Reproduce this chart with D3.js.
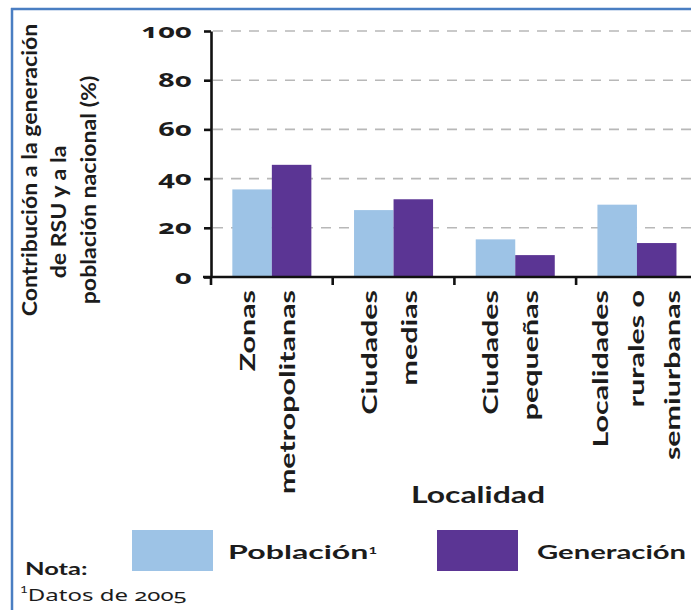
<!DOCTYPE html>
<html>
<head>
<meta charset="utf-8" />
<style>
body { margin: 0; background: #fff; }
svg { display: block; }
text { font-family: Lato, "Open Sans", sans-serif; fill: #1c1c1c; }
.num { font-family: "Noto Sans", Lato, sans-serif; font-feature-settings: "onum" 1; font-variant-numeric: oldstyle-nums; }
</style>
<script src="https://cdnjs.cloudflare.com/ajax/libs/d3/7.8.5/d3.min.js"></script>
</head>
<body>
<div id="chart"></div>
<script>
// data
var categories = ["Zonas metropolitanas", "Ciudades medias", "Ciudades pequeñas", "Localidades rurales o semiurbanas"];
var categoryLines = [["Zonas", "metropolitanas"], ["Ciudades", "medias"], ["Ciudades", "pequeñas"], ["Localidades", "rurales o", "semiurbanas"]];
var series = ["Población", "Generación"];
var poblacion = [35.6, 27.2, 15.3, 29.4];
var generacion = [45.6, 31.6, 8.9, 13.8];
var yTicks = [0, 20, 40, 60, 80, 100];
var yTitleLines = ["Contribución a la generación", "de RSU y a la", "población nacional (%)"];

var colors = { "Población": "#9dc3e6", "Generación": "#5b3594" };
var W = 691, H = 610;

var svg = d3.select("#chart").append("svg")
  .attr("width", W).attr("height", H);

svg.append("rect").attr("width", W).attr("height", H).attr("fill", "#fff");

// frame (only top and left edges are visible)
svg.append("line").attr("x1", 11).attr("x2", W).attr("y1", 9).attr("y2", 9)
  .attr("stroke", "#4a7ec2").attr("stroke-width", 2.5);
svg.append("line").attr("x1", 12).attr("x2", 12).attr("y1", 8).attr("y2", H)
  .attr("stroke", "#4a7ec2").attr("stroke-width", 2.5);

var axisX = 211, step = 121.7;
var x = d3.scaleBand().domain(categories)
  .range([axisX, axisX + step * categories.length])
  .paddingInner(0).paddingOuter(0);
var x1 = d3.scaleBand().domain(series).range([0, x.bandwidth()]).paddingInner(0).paddingOuter(0.54);
var y = d3.scaleLinear().domain([0, 100]).range([277, 31]);

// stretched text helper (the original face is set very wide)
function wideText(g, px, py, rot, sx, str) {
  return g.append("text")
    .attr("transform", "translate(" + px + "," + py + ") rotate(" + rot + ") scale(" + sx + ",1)")
    .text(str);
}

// dashed grid
svg.append("g").selectAll("line")
  .data(yTicks.filter(function(d) { return d > 0; }))
  .enter().append("line")
  .attr("x1", axisX + 2).attr("x2", W)
  .attr("y1", function(d) { return y(d); }).attr("y2", function(d) { return y(d); })
  .attr("stroke", "#b8b8b8").attr("stroke-width", 1.6)
  .attr("stroke-dasharray", "10,8");

// bars
var rows = categories.map(function(c, i) {
  return { cat: c, values: [{ s: series[0], v: poblacion[i] }, { s: series[1], v: generacion[i] }] };
});
var groups = svg.append("g").selectAll("g").data(rows).enter().append("g")
  .attr("transform", function(d) { return "translate(" + x(d.cat) + ",0)"; });
groups.selectAll("rect").data(function(d) { return d.values; }).enter().append("rect")
  .attr("x", function(d) { return x1(d.s); })
  .attr("width", x1.bandwidth())
  .attr("y", function(d) { return y(d.v); })
  .attr("height", function(d) { return y(0) - y(d.v); })
  .attr("fill", function(d) { return colors[d.s]; });

// y axis
var yAxis = svg.append("g")
  .attr("transform", "translate(" + axisX + ",0)")
  .call(d3.axisLeft(y).tickValues(yTicks).tickSize(7).tickSizeOuter(0).tickFormat(d3.format("d")));
yAxis.select(".domain").attr("stroke", "#111").attr("stroke-width", 2.6);
yAxis.selectAll(".tick line").attr("stroke", "#111").attr("stroke-width", 2.6);
yAxis.selectAll(".tick text")
  .attr("class", "num")
  .attr("x", 0).attr("dy", "0.3em")
  .attr("transform", "translate(-19,0) scale(1.45,1)")
  .style("font-size", "20px").style("font-weight", 700)
  .attr("fill", "#1c1c1c");

// x axis line and ticks at band edges
svg.append("line").attr("x1", axisX - 8).attr("x2", W)
  .attr("y1", y(0)).attr("y2", y(0))
  .attr("stroke", "#111").attr("stroke-width", 2.6);
svg.append("g").selectAll("line").data(categories).enter().append("line")
  .attr("x1", function(d) { return x(d); }).attr("x2", function(d) { return x(d); })
  .attr("y1", y(0)).attr("y2", y(0) + 8)
  .attr("stroke", "#111").attr("stroke-width", 2.6);

// category labels, rotated
var labelTop = 290;
categories.forEach(function(c, i) {
  var lines = categoryLines[i];
  var n = lines.length;
  var gap = n > 2 ? 36 : 40;
  var shift = n > 2 ? 7 : 3;
  var cx = x(c) + x.bandwidth() / 2;
  lines.forEach(function(l, j) {
    wideText(svg, cx + shift + (j - (n - 1) / 2) * gap, labelTop, -90, 1.45, l)
      .attr("text-anchor", "end")
      .style("font-size", "21px").style("font-weight", 700);
  });
});

// y title
var titleBase = [37, 66, 96];
var titleMid = [170, 212, 190];
yTitleLines.forEach(function(l, j) {
  wideText(svg, titleBase[j], titleMid[j], -90, 1.1, l)
    .attr("text-anchor", "middle")
    .style("font-size", "21px").style("font-weight", 700);
});

// x title
wideText(svg, 478, 503, 0, 1.45, "Localidad")
  .attr("text-anchor", "middle")
  .style("font-size", "22px").style("font-weight", 700);

// legend
var legendX = [132, 437];
var legendScale = [1.65, 1.5];
series.forEach(function(s, i) {
  svg.append("rect").attr("x", legendX[i]).attr("y", 530)
    .attr("width", 81).attr("height", 41).attr("fill", colors[s]);
  var t = wideText(svg, legendX[i] + 96 + (i ? 4 : 0), 559, 0, legendScale[i], s)
    .style("font-size", "19.5px").style("font-weight", 700);
  if (i === 0) {
    t.append("tspan").attr("dy", "-0.6em")
      .style("font-size", "9px").text("1");
  }
});

// note
wideText(svg, 25, 575, 0, 1.5, "Nota:")
  .style("font-size", "17px").style("font-weight", 700);
var note = wideText(svg, 20, 597, 0, 1.5, "")
  .style("font-size", "16px");
note.append("tspan").attr("dy", "-0.5em").style("font-size", "9px").text("1");
note.append("tspan").attr("class", "num").attr("dy", "0.5em").text("Datos de 2005");
</script>
</body>
</html>
